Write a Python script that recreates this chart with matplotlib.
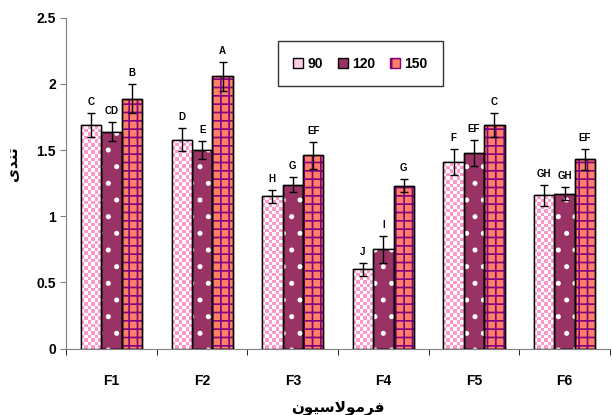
import matplotlib
matplotlib.use("Agg")
import matplotlib.pyplot as plt
import numpy as np
from matplotlib.patches import Patch
from matplotlib.colors import ListedColormap

categories = ["F1", "F2", "F3", "F4", "F5", "F6"]
series_names = ["90", "120", "150"]
v90 = [1.69, 1.58, 1.15, 0.60, 1.41, 1.16]
v120 = [1.64, 1.50, 1.24, 0.75, 1.48, 1.17]
v150 = [1.89, 2.06, 1.46, 1.23, 1.69, 1.43]
e90 = [0.09, 0.09, 0.05, 0.05, 0.10, 0.08]
e120 = [0.07, 0.07, 0.06, 0.10, 0.10, 0.05]
e150 = [0.11, 0.11, 0.10, 0.05, 0.09, 0.08]
l90 = ["C", "D", "H", "J", "F", "GH"]
l120 = ["CD", "E", "G", "I", "EF", "GH"]
l150 = ["B", "A", "EF", "G", "C", "EF"]
yticks = [0, 0.5, 1, 1.5, 2, 2.5]
ytick_labels = ["0", "0.5", "1", "1.5", "2", "2.5"]
xlabel = "فرمولاسیون"
ylabel = "تندی"

# minimal Arabic/Persian shaping (matplotlib has no complex text layout)
FORMS = {  # isolated, final, initial, medial
    'ف': ('\uFED1', '\uFED2', '\uFED3', '\uFED4'),
    'ر': ('\uFEAD', '\uFEAE', None, None),
    'م': ('\uFEE1', '\uFEE2', '\uFEE3', '\uFEE4'),
    'و': ('\uFEED', '\uFEEE', None, None),
    'ل': ('\uFEDD', '\uFEDE', '\uFEDF', '\uFEE0'),
    'ا': ('\uFE8D', '\uFE8E', None, None),
    'س': ('\uFEB1', '\uFEB2', '\uFEB3', '\uFEB4'),
    'ی': ('\uFBFC', '\uFBFD', '\uFBFE', '\uFBFF'),
    'ن': ('\uFEE5', '\uFEE6', '\uFEE7', '\uFEE8'),
    'ت': ('\uFE95', '\uFE96', '\uFE97', '\uFE98'),
    'د': ('\uFEA9', '\uFEAA', None, None),
}


def shape(text):
    chars = list(text)
    out = []
    i = 0
    prev_joins = False
    while i < len(chars):
        c = chars[i]
        if c == 'ل' and i + 1 < len(chars) and chars[i + 1] == 'ا':
            out.append('\uFEFC' if prev_joins else '\uFEFB')
            prev_joins = False
            i += 2
            continue
        f = FORMS.get(c)
        if f is None:
            out.append(c)
            prev_joins = False
            i += 1
            continue
        nxt = chars[i + 1] if i + 1 < len(chars) else None
        can_next = f[2] is not None and nxt in FORMS
        if prev_joins and can_next:
            g = f[3]
        elif prev_joins:
            g = f[1]
        elif can_next:
            g = f[2]
        else:
            g = f[0]
        out.append(g)
        prev_joins = can_next
        i += 1
    return ''.join(reversed(out))


plt.rcParams['font.family'] = ['Liberation Sans', 'DejaVu Sans']
plt.rcParams['hatch.linewidth'] = 1.2

fig = plt.figure(figsize=(6.13, 4.15), dpi=100)
ax = fig.add_axes([0.108, 0.16, 0.887, 0.797])

x = np.arange(len(categories))
w = 0.225
values = [v90, v120, v150]
errs = [e90, e120, e150]
labels = [l90, l120, l150]
faces = ['white', '#993366', '#FF8066']
hatches = [None, '.', '++']
hcolors = [None, 'white', '#800080']

ax.set_xlim(-0.5, len(categories) - 0.5)
ax.set_ylim(0, 2.5)

# checker texture for series 90
px_x = (0.887 * 613) / 6.0   # pixels per category
px_y = (0.797 * 415) / 2.5   # pixels per unit
cell = 3.6

for i in range(3):
    pos = x + (i - 1) * w
    bars = ax.bar(pos, values[i], w, color=faces[i], edgecolor='black', linewidth=1.0,
                  label=series_names[i], zorder=2)
    if i == 0:
        for b in bars:
            x0, y0 = b.get_x(), b.get_y()
            bw, bh = b.get_width(), b.get_height()
            nx = max(1, int(round(bw * px_x / cell)))
            ny = max(1, int(round(bh * px_y / cell)))
            chk = (np.add.outer(np.arange(ny), np.arange(nx)) % 2).astype(float)
            im = ax.imshow(chk, cmap=ListedColormap(['white', '#FF99CC']),
                           extent=(x0, x0 + bw, y0, y0 + bh), origin='lower',
                           interpolation='nearest', aspect='auto', zorder=3)
            im.set_clip_path(b)
    else:
        ax.bar(pos, values[i], w, fill=False, hatch=hatches[i], edgecolor=hcolors[i],
               linewidth=0, zorder=3)
    ax.bar(pos, values[i], w, fill=False, edgecolor='black', linewidth=1.0, zorder=4)
    ax.errorbar(pos, values[i], yerr=errs[i], fmt='none', ecolor='black',
                elinewidth=1.0, capsize=3, capthick=1.0, zorder=5)
    for p, v, e, t in zip(pos, values[i], errs[i], labels[i]):
        ax.text(p, v + e + 0.045, t, ha='center', va='bottom', fontsize=7,
                fontweight='bold')

ax.set_xlim(-0.5, len(categories) - 0.5)
ax.set_ylim(0, 2.5)
ax.set_yticks(yticks)
ax.set_yticklabels(ytick_labels, fontsize=10, fontweight='bold')
ax.set_xticks(x)
ax.set_xticklabels(categories, fontsize=10, fontweight='bold')
ax.tick_params(axis='x', length=0, pad=18)
ax.set_xticks(np.arange(len(categories) + 1) - 0.5, minor=True)
ax.tick_params(axis='x', which='minor', length=4, color='black')
ax.tick_params(axis='y', length=4, direction='out', color='gray')
for s in ['top', 'right']:
    ax.spines[s].set_visible(False)
ax.spines['left'].set_color('gray')
ax.spines['bottom'].set_color('gray')

ax.set_xlabel(shape(xlabel), fontsize=11, fontweight='bold', labelpad=9,
              family=['DejaVu Sans'])
ax.set_ylabel(shape(ylabel), fontsize=11, fontweight='bold', labelpad=12,
              family=['DejaVu Sans'])
ax.yaxis.set_label_coords(-0.085, 0.56)

handles = [Patch(facecolor='#FFCCE6', edgecolor='black'),
           Patch(facecolor='#993366', edgecolor='black'),
           Patch(facecolor='#FF8066', edgecolor='#800080', hatch='+')]
leg = ax.legend(handles, series_names, ncol=3, loc='upper left',
                bbox_to_anchor=(0.377, 0.95), frameon=True, fancybox=False,
                edgecolor='black', prop={'weight': 'bold', 'size': 10},
                handlelength=0.7, handleheight=0.7, columnspacing=1.1,
                handletextpad=0.3, borderpad=1.1)
leg.get_frame().set_linewidth(1.0)

fig.savefig('out.png', dpi=100)
